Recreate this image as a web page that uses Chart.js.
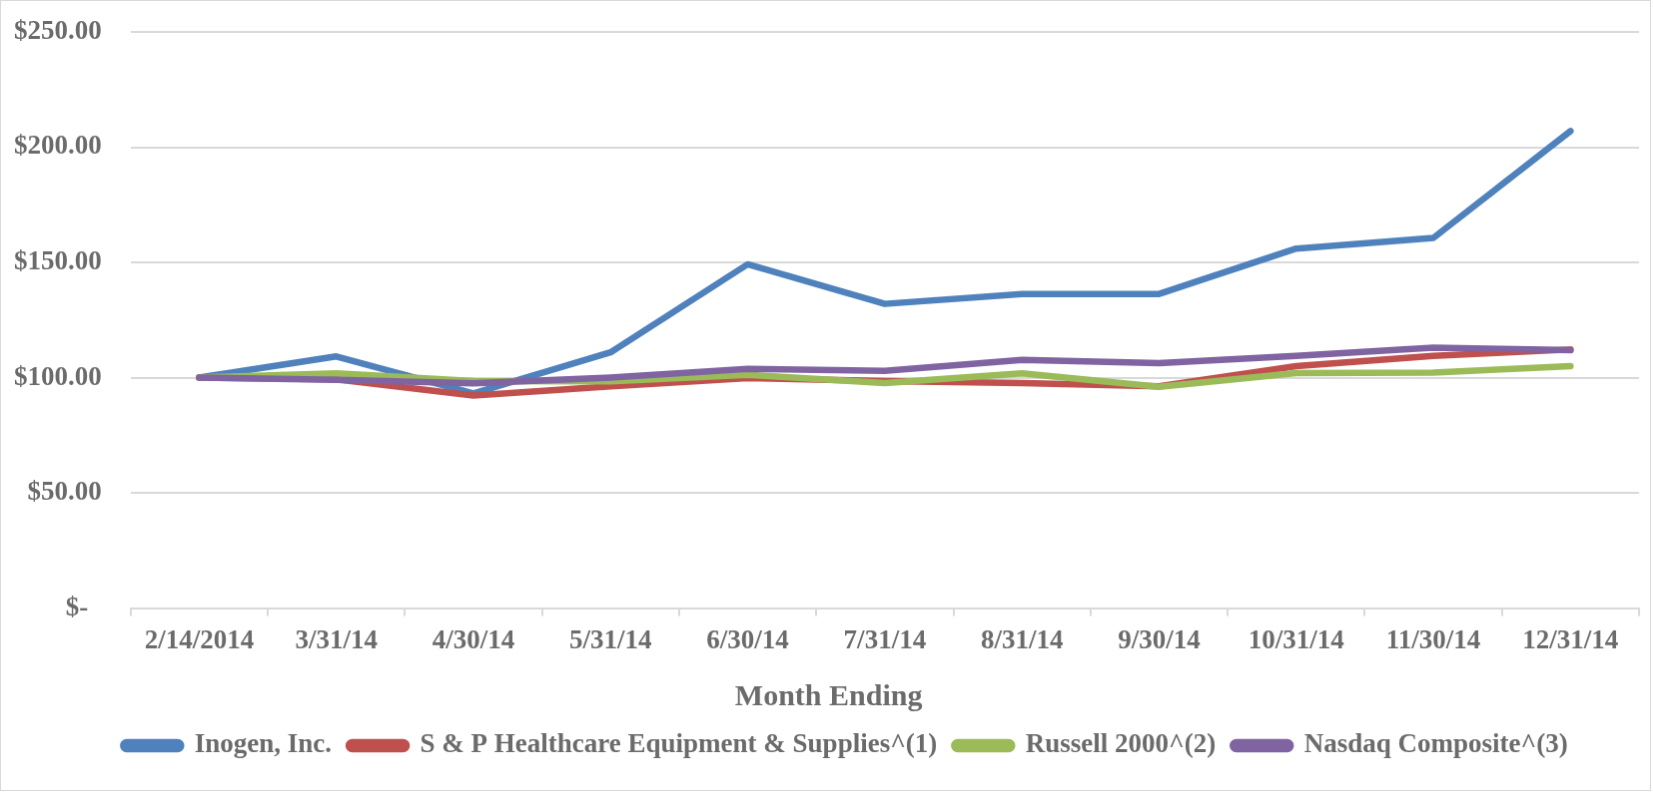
<!DOCTYPE html>
<html>
  <head>
    <meta charset="utf-8" />
    <title>Inogen Cumulative Return</title>
    <script src="https://cdn.jsdelivr.net/npm/chart.js@4"></script>
    <style>
      body { margin: 0; background: #fff; }
      canvas { display: block; border: 1px solid #d9d9d9; }
    </style>
  </head>
  <body>
    <canvas id="returnChart" width="1651" height="791"></canvas>
    <script>
      const months = [
        "2/14/2014", "3/31/14", "4/30/14", "5/31/14", "6/30/14", "7/31/14",
        "8/31/14", "9/30/14", "10/31/14", "11/30/14", "12/31/14",
      ];
      const inogen = [100, 109.2, 93.2, 111, 149.2, 132, 136.3, 136.3, 156, 160.6, 207];
      const spHealthcare = [100, 99.3, 92.2, 96.2, 99.8, 98.5, 97.6, 96.2, 105, 109.4, 112.2];
      const russell = [100, 101.9, 98.5, 98.4, 101.2, 97.6, 101.9, 96, 102, 102.2, 105];
      const nasdaq = [100, 99, 97.5, 100, 103.8, 102.9, 107.7, 106.3, 109.4, 113, 111.9];

      const textGray = "#6b6b6b";
      const gridGray = "#d9d9d9";
      const serif = "'Liberation Serif', 'Times New Roman', serif";
      const tickGap = 29;

      function line(label, data, color, order) {
        return {
          label: label,
          data: data,
          borderColor: color,
          backgroundColor: color,
          borderWidth: 6.5,
          borderCapStyle: "round",
          borderJoinStyle: "round",
          pointRadius: 0,
          tension: 0,
          order: order, // later series drawn on top, like Excel
        };
      }

      // Excel centres the legend a bit right of the canvas middle
      const shiftLegend = {
        id: "shiftLegend",
        afterLayout(chart) {
          chart.legend.left += 19;
          chart.legend.right += 19;
        },
      };

      const ctx = document.getElementById("returnChart").getContext("2d");
      new Chart(ctx, {
        type: "line",
        data: {
          labels: months,
          datasets: [
            line("Inogen, Inc.", inogen, "#4f81bd", 4),
            line("S & P Healthcare Equipment & Supplies^(1)", spHealthcare, "#c0504d", 3),
            line("Russell 2000^(2)", russell, "#9bbb59", 2),
            line("Nasdaq Composite^(3)", nasdaq, "#8064a2", 1),
          ],
        },
        plugins: [shiftLegend],
        options: {
          responsive: false,
          animation: false,
          layout: { padding: { top: 0, right: 11, left: 13, bottom: 21 } },
          plugins: {
            tooltip: { enabled: false },
            legend: {
              position: "bottom",
              labels: {
                color: textGray,
                font: { family: serif, size: 27, weight: "bold" },
                boxWidth: 58,
                boxHeight: 7,
                useBorderRadius: true,
                borderRadius: 3.5,
                padding: 17,
                sort: (a, b) => a.datasetIndex - b.datasetIndex,
              },
            },
          },
          scales: {
            x: {
              offset: true,
              grid: {
                offset: true,
                drawOnChartArea: false,
                drawTicks: true,
                tickLength: 8,
                color: gridGray,
                lineWidth: 2,
              },
              border: { display: true, color: gridGray, width: 2 },
              ticks: {
                color: textGray,
                font: { family: serif, size: 27, weight: "bold" },
                padding: 9,
                maxRotation: 0,
                autoSkip: false,
              },
              title: {
                display: true,
                // trailing spaces pull the centred title left, as in the original
                text: "Month Ending               ",
                color: textGray,
                font: { family: serif, size: 30, weight: "bold" },
                padding: { top: 13, bottom: 0 },
              },
            },
            y: {
              min: 0,
              max: 250,
              border: { display: false },
              grid: { color: gridGray, lineWidth: 2, drawTicks: false },
              afterFit: (scale) => {
                scale.width -= tickGap;
                scale.paddingTop = 31;
              },
              ticks: {
                stepSize: 50,
                color: textGray,
                padding: tickGap,
                font: { family: serif, size: 27, weight: "bold" },
                callback: (v) => (v === 0 ? "$-  " : "$" + v.toFixed(2)),
              },
            },
          },
        },
      });
    </script>
  </body>
</html>
